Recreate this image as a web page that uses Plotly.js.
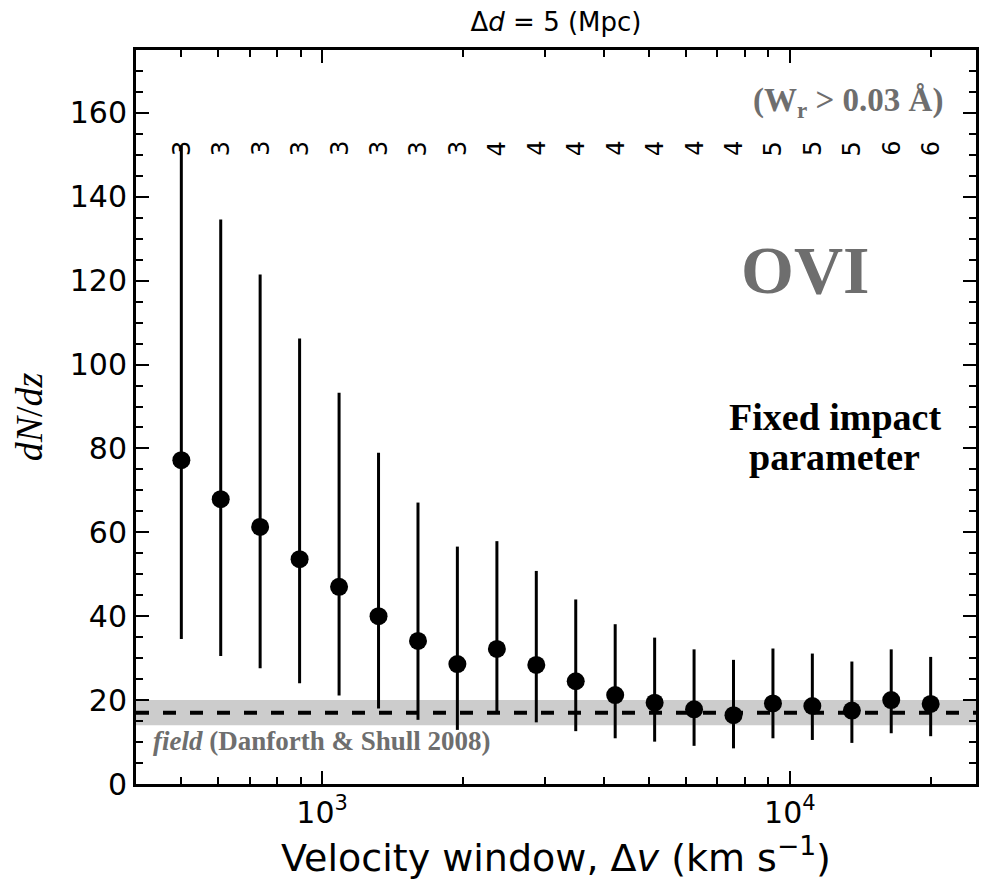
<!DOCTYPE html>
<html>
<head>
<meta charset="utf-8">
<script src="https://cdn.plot.ly/plotly-3.0.1.min.js"></script>
<style>body{margin:0;padding:0;background:#fff;} #chart{width:987px;height:885px;}</style>
</head>
<body>
<div id="chart"></div>
<script>
// Velocity window (km/s)
const velocity = [500, 607, 737, 895, 1087, 1320, 1603, 1946, 2364, 2870, 3485, 4232, 5139, 6240, 7577, 9201, 11170, 13570, 16470, 20000];
// dN/dz values
const dNdz = [77.2, 67.9, 61.3, 53.6, 47.0, 40.0, 34.1, 28.6, 32.2, 28.4, 24.5, 21.2, 19.4, 17.8, 16.4, 19.2, 18.6, 17.5, 20.0, 19.1];
// error bar limits
const upperLimit = [152.3, 134.6, 121.5, 106.2, 93.3, 79.0, 67.1, 56.6, 57.9, 50.8, 44.0, 38.1, 34.9, 32.1, 29.6, 32.3, 31.1, 29.2, 32.1, 30.3];
const lowerLimit = [34.6, 30.5, 27.6, 24.0, 21.1, 18.0, 15.3, 12.9, 16.8, 14.7, 12.6, 10.9, 10.1, 9.1, 8.5, 10.9, 10.5, 9.8, 12.1, 11.4];
// number of absorbers per bin
const counts = [3, 3, 3, 3, 3, 3, 3, 3, 4, 4, 4, 4, 4, 4, 4, 5, 5, 5, 6, 6];
// field value (Danforth & Shull 2008)
const fieldValue = 17;
const fieldLow = 14;
const fieldHigh = 20;
const countLabelLevel = 151.5;
const xTickVals = [1000, 10000];
const xTickText = ['10<sup>3</sup>', '10<sup>4</sup>'];

const errPlus = upperLimit.map((u, i) => u - dNdz[i]);
const errMinus = lowerLimit.map((l, i) => dNdz[i] - l);

const trace = {
  x: velocity, y: dNdz, type: 'scatter', mode: 'markers',
  marker: {color: 'black', size: 18},
  error_y: {type: 'data', symmetric: false, array: errPlus, arrayminus: errMinus,
            color: 'black', thickness: 3, width: 0},
  showlegend: false, hoverinfo: 'skip'
};

const countAnnotations = velocity.map((v, i) => ({
  x: Math.log10(v), y: countLabelLevel, xref: 'x', yref: 'y',
  text: String(counts[i]), showarrow: false, textangle: -90,
  font: {family: 'DejaVu Sans', size: 24, color: 'black'}
}));

const serif = '"Liberation Serif", "Times New Roman", serif';
const textAnn = [
  {xref: 'paper', yref: 'paper', x: 0.963, y: 0.928, xanchor: 'right', yanchor: 'middle',
   text: '<b>(W<sub>r</sub> &gt; 0.03 Å)</b>', showarrow: false,
   font: {family: serif, size: 33, color: '#6e6e6e'}},
  {xref: 'paper', yref: 'paper', x: 0.796, y: 0.700, xanchor: 'center', yanchor: 'middle',
   text: '<b>OVI</b>', showarrow: false,
   font: {family: serif, size: 68, color: '#6e6e6e'}},
  {xref: 'paper', yref: 'paper', x: 0.832, y: 0.500, xanchor: 'center', yanchor: 'middle',
   text: '<b>Fixed impact</b>', showarrow: false,
   font: {family: serif, size: 38, color: 'black'}},
  {xref: 'paper', yref: 'paper', x: 0.832, y: 0.446, xanchor: 'center', yanchor: 'middle',
   text: '<b>parameter</b>', showarrow: false,
   font: {family: serif, size: 38, color: 'black'}},
  {xref: 'paper', yref: 'y', x: 0.018, y: 10.3, xanchor: 'left', yanchor: 'middle',
   text: '<b><i>field</i> (Danforth &amp; Shull 2008)</b>', showarrow: false,
   font: {family: serif, size: 27, color: '#6e6e6e'}}
];

const layout = {
  width: 987, height: 885,
  margin: {l: 136, r: 11, t: 50, b: 101},
  paper_bgcolor: 'white', plot_bgcolor: 'white',
  font: {family: 'DejaVu Sans', color: 'black'},
  title: {text: 'Δ<i>d</i> = 5 (Mpc)', x: 0.5, xref: 'paper', y: 0.975, yanchor: 'middle',
          font: {family: 'DejaVu Sans', size: 26, color: 'black'}},
  xaxis: {
    type: 'log', range: [Math.log10(400), Math.log10(25000)],
    tickmode: 'array', tickvals: xTickVals, ticktext: xTickText,
    ticks: 'inside', ticklen: 13, tickwidth: 2, tickcolor: 'black',
    showline: true, linewidth: 3, linecolor: 'black', mirror: 'allticks',
    showgrid: false, zeroline: false,
    tickfont: {family: 'DejaVu Sans', size: 30, color: 'black'},
    minor: {dtick: 'D1', ticks: 'inside', ticklen: 7, tickwidth: 2, tickcolor: 'black', showgrid: false},
    title: {text: 'Velocity window, Δ<i>v</i> (km s<sup>−1</sup>)', standoff: 14,
            font: {family: 'DejaVu Sans', size: 38, color: 'black'}}
  },
  yaxis: {
    range: [0, 175], tickmode: 'linear', tick0: 0, dtick: 20,
    ticks: 'inside', ticklen: 13, tickwidth: 2, tickcolor: 'black',
    showline: true, linewidth: 3, linecolor: 'black', mirror: 'allticks',
    showgrid: false, zeroline: false,
    tickfont: {family: 'DejaVu Sans', size: 30, color: 'black'},
    minor: {dtick: 5, ticks: 'inside', ticklen: 7, tickwidth: 2, tickcolor: 'black', showgrid: false},
    title: {text: '<i>dN</i>/<i>dz</i>', standoff: 16,
            font: {family: serif, size: 38, color: 'black'}}
  },
  shapes: [
    {type: 'rect', xref: 'paper', yref: 'y', x0: 0, x1: 1, y0: fieldLow, y1: fieldHigh,
     fillcolor: '#cccccc', line: {width: 0}, layer: 'below'},
    {type: 'line', xref: 'paper', yref: 'y', x0: 0, x1: 1, y0: fieldValue, y1: fieldValue,
     line: {color: 'black', width: 4, dash: '13px,14px'}, layer: 'below'}
  ],
  annotations: countAnnotations.concat(textAnn)
};

Plotly.newPlot('chart', [trace], layout, {displayModeBar: false, staticPlot: true});
</script>
</body>
</html>
